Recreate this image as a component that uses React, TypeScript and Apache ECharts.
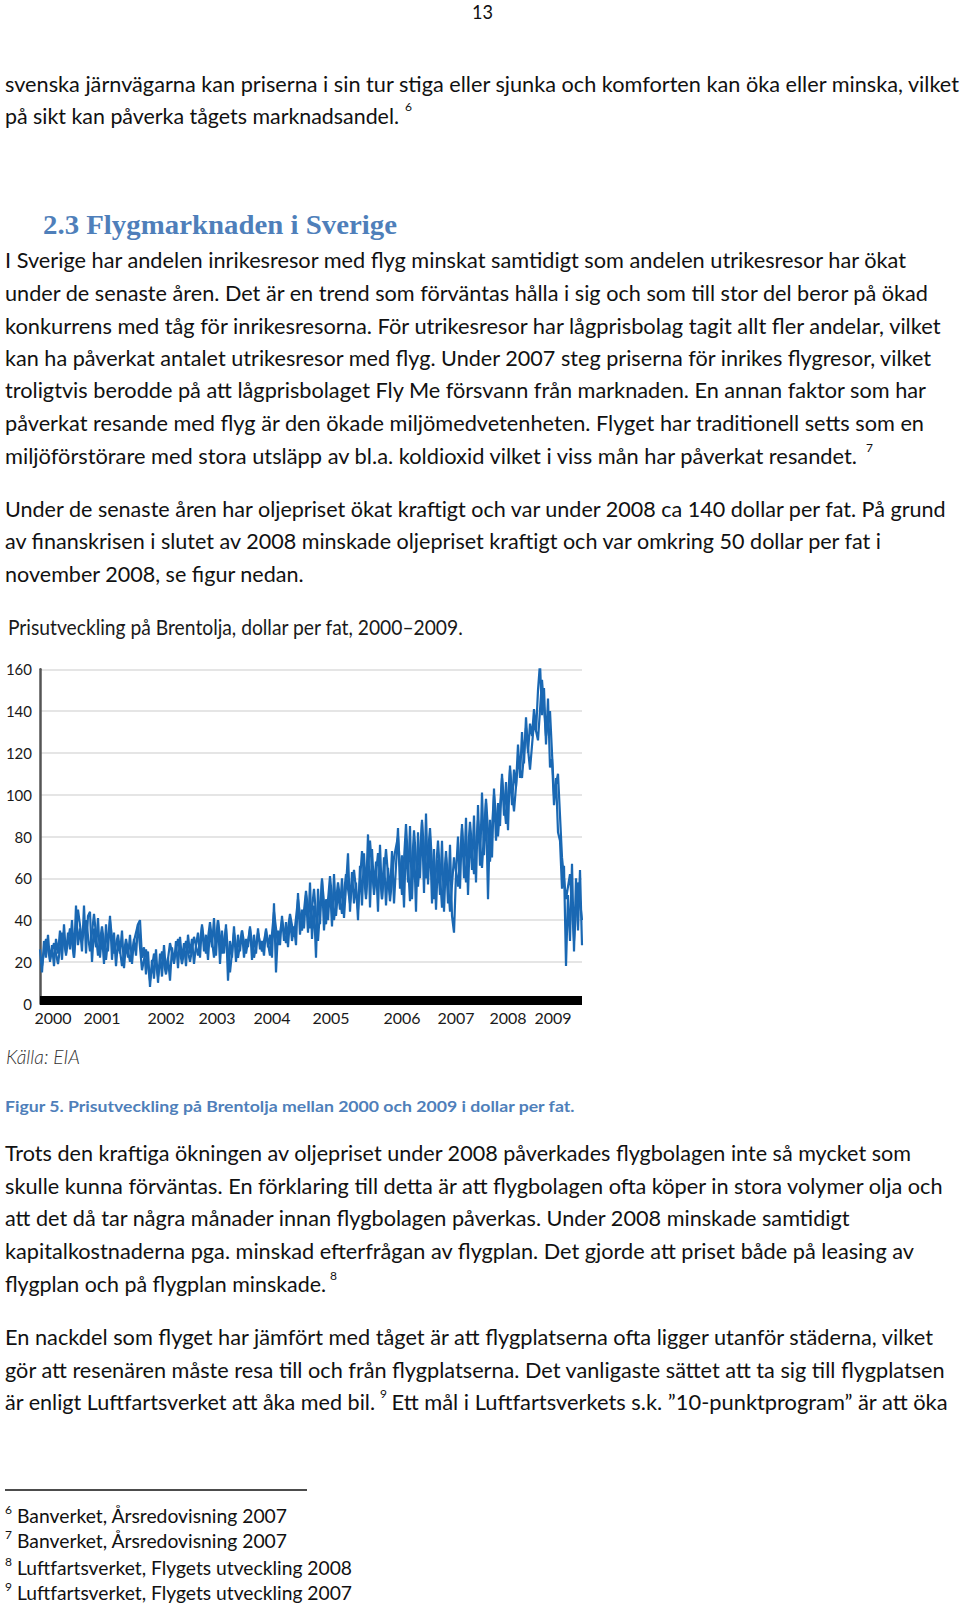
import React, { useEffect, useRef } from "react";
import * as echarts from "echarts";

// ---- Chart data (Brent crude, USD per barrel) ----
const chartTitle = "Prisutveckling på Brentolja, dollar per fat, 2000–2009.";
const sourceText = "Källa: EIA";

const yearLabels = ["2000", "2001", "2002", "2003", "2004", "2005", "2006", "2007", "2008", "2009"];
// position of each year label on the time index axis (as printed in the original)
const yearPos = [6.5, 31, 63, 88.5, 116, 145.5, 181, 208, 234, 256.5];

// main trace (every time step)
const brentPart1 = [26, 15, 30, 22, 33, 20, 28, 18, 31, 24, 35, 21, 38, 23, 34, 26, 40, 22, 47, 28, 36, 25, 47, 24, 42];
const brentPart2 = [44, 20, 36, 27, 41, 22, 33, 19, 38, 25, 42, 21, 34, 18, 30, 24, 35, 17, 29, 22, 33, 19, 31, 23, 38];
const brentPart3 = [40, 22, 27, 14, 25, 8, 21, 12, 26, 10, 24, 13, 28, 15, 22, 11, 27, 19, 30, 17, 32, 21, 29, 18, 33];
const brentPart4 = [24, 31, 19, 28, 34, 22, 38, 25, 33, 21, 36, 27, 41, 23, 40, 19, 35, 24, 38, 11, 30, 22, 37, 20, 33];
const brentPart5 = [25, 35, 22, 31, 27, 37, 21, 33, 24, 36, 26, 30, 23, 36, 27, 33, 22, 48, 15, 35, 28, 42, 30, 39, 27];
const brentPart6 = [41, 30, 37, 28, 53, 33, 45, 36, 52, 34, 58, 31, 47, 22, 55, 38, 60, 35, 50, 40, 56, 37, 62, 42, 54];
const brentPart7 = [45, 60, 41, 56, 72, 44, 63, 48, 58, 40, 66, 47, 72, 52, 81, 46, 74, 55, 68, 44, 76, 50, 70, 47, 65];
const brentPart8 = [52, 73, 48, 66, 84, 55, 71, 46, 79, 58, 85, 50, 77, 44, 82, 60, 88, 53, 91, 57, 80, 48, 74, 45, 69];
const brentPart9 = [52, 78, 44, 70, 48, 76, 42, 34, 62, 80, 55, 86, 60, 89, 52, 83, 64, 90, 58, 95, 66, 101, 71, 96, 50];
const brentPart10 = [88, 70, 103, 78, 96, 85, 110, 90, 106, 83, 114, 95, 112, 104, 124, 108, 130, 115, 137, 120, 134, 128, 141, 130, 150];
const brentPart11 = [163, 138, 151, 124, 146, 113, 117, 95, 108, 82, 78, 55, 66, 18, 52, 30, 67, 25, 60, 35, 64, 28];

// overlapping second trace (every other time step, odd indices)
const brentAlt1 = [18, 31, 21, 29, 19, 34, 24, 36, 22, 45, 30, 40, 25, 43, 23, 37, 21, 40, 24, 33, 18, 31, 20, 30, 38, 16, 26, 11, 24, 13, 25, 14, 29, 20];
const brentAlt2 = [31, 19, 30, 20, 32, 23, 37, 24, 39, 22, 40, 24, 36, 15, 34, 22, 35, 24, 36, 22, 34, 25, 35, 23, 44, 28, 40, 29, 43, 32, 50, 35, 54, 36];
const brentAlt3 = [55, 30, 59, 38, 61, 40, 58, 43, 62, 48, 64, 45, 73, 50, 78, 52, 72, 50, 74, 49, 70, 80, 52, 86, 49, 83, 56, 87, 60, 84, 50, 78, 46, 73];
const brentAlt4 = [44, 70, 56, 84, 58, 87, 62, 88, 65, 98, 68, 100, 80, 108, 86, 112, 92, 116, 108, 132, 112, 135, 126, 155, 128, 140, 100, 110, 70, 50, 62, 30, 58, 40];

const brent = [
  ...brentPart1, ...brentPart2, ...brentPart3, ...brentPart4, ...brentPart5, ...brentPart6,
  ...brentPart7, ...brentPart8, ...brentPart9, ...brentPart10, ...brentPart11,
];
const brentAlt = [...brentAlt1, ...brentAlt2, ...brentAlt3, ...brentAlt4];

// ---- Page text ----
type Line = { t: string; x: number; y: number; w: number; size: number; family: string; color: string; weight?: string };
const BODY = "Lato, 'Open Sans', sans-serif";
const body = (t: string, y: number, w: number, x = 5): Line => ({ t, x, y, w, size: 21, family: BODY, color: "#111" });
const sup = (t: string, x: number, y: number): Line => ({ t, x, y, w: 0, size: 12, family: BODY, color: "#111" });

const pageLines: Line[] = [
  { t: "13", x: 472, y: 11, w: 21, size: 20, family: BODY, color: "#111" },
  body("svenska järnvägarna kan priserna i sin tur stiga eller sjunka och komforten kan öka eller minska, vilket", 83, 954),
  body("på sikt kan påverka tågets marknadsandel.", 115.5, 394),
  sup("6", 405, 106),
  { t: "2.3 Flygmarknaden i Sverige", x: 43, y: 224, w: 354, size: 28, family: "'Liberation Serif', 'DejaVu Serif', serif", color: "#4f7fba", weight: "bold" },
  body("I Sverige har andelen inrikesresor med flyg minskat samtidigt som andelen utrikesresor har ökat", 259.7, 901),
  body("under de senaste åren. Det är en trend som förväntas hålla i sig och som till stor del beror på ökad", 292.4, 923),
  body("konkurrens med tåg för inrikesresorna. För utrikesresor har lågprisbolag tagit allt fler andelar, vilket", 325.1, 935.5),
  body("kan ha påverkat antalet utrikesresor med flyg. Under 2007 steg priserna för inrikes flygresor, vilket", 357.8, 926),
  body("troligtvis berodde på att lågprisbolaget Fly Me försvann från marknaden. En annan faktor som har", 389.5, 921),
  body("påverkat resande med flyg är den ökade miljömedvetenheten. Flyget har traditionell setts som en", 422.3, 919),
  body("miljöförstörare med stora utsläpp av bl.a. koldioxid vilket i viss mån har påverkat resandet.", 455, 852),
  sup("7", 866, 447),
  body("Under de senaste åren har oljepriset ökat kraftigt och var under 2008 ca 140 dollar per fat. På grund", 508.1, 940.6),
  body("av finanskrisen i slutet av 2008 minskade oljepriset kraftigt och var omkring 50 dollar per fat i", 540.9, 876),
  body("november 2008, se figur nedan.", 573.6, 298.6),
  { t: "Figur 5. Prisutveckling på Brentolja mellan 2000 och 2009 i dollar per fat.", x: 5, y: 1105, w: 569.5, size: 16, family: BODY, color: "#4f7fba", weight: "bold" },
  body("Trots den kraftiga ökningen av oljepriset under 2008 påverkades flygbolagen inte så mycket som", 1152.2, 906),
  body("skulle kunna förväntas. En förklaring till detta är att flygbolagen ofta köper in stora volymer olja och", 1185, 937.5),
  body("att det då tar några månader innan flygbolagen påverkas. Under 2008 minskade samtidigt", 1217.7, 844.5),
  body("kapitalkostnaderna pga. minskad efterfrågan av flygplan. Det gjorde att priset både på leasing av", 1250.4, 909),
  body("flygplan och på flygplan minskade.", 1283.1, 321),
  sup("8", 330, 1275),
  body("En nackdel som flyget har jämfört med tåget är att flygplatserna ofta ligger utanför städerna, vilket", 1336.3, 928),
  body("gör att resenären måste resa till och från flygplatserna. Det vanligaste sättet att ta sig till flygplatsen", 1369, 939.6),
  body("är enligt Luftfartsverket att åka med bil.", 1401.7, 370),
  sup("9", 380, 1393),
  body("Ett mål i Luftfartsverkets s.k. ”10-punktprogram” är att öka", 1401.7, 556, 391.6),
  sup("6", 5, 1509),
  { t: "Banverket, Årsredovisning 2007", x: 17, y: 1515, w: 270, size: 19, family: BODY, color: "#111" },
  sup("7", 5, 1534),
  { t: "Banverket, Årsredovisning 2007", x: 17, y: 1540, w: 270, size: 19, family: BODY, color: "#111" },
  sup("8", 5, 1561),
  { t: "Luftfartsverket, Flygets utveckling 2008", x: 17, y: 1567, w: 335, size: 19, family: BODY, color: "#111" },
  sup("9", 5, 1586),
  { t: "Luftfartsverket, Flygets utveckling 2007", x: 17, y: 1592, w: 335, size: 19, family: BODY, color: "#111" },
];

function measure(text: string, font: string): number {
  const ctx = document.createElement("canvas").getContext("2d");
  if (!ctx) return 1;
  ctx.font = font;
  return ctx.measureText(text).width || 1;
}

export default function App() {
  const ref = useRef<HTMLDivElement>(null);

  useEffect(() => {
    document.body.style.margin = "0";
    if (!ref.current) return;
    const chart = echarts.init(ref.current, null, { renderer: "svg" });

    const titleFont = "22px Lato";
    const titleScale = 456 / measure(chartTitle, titleFont);
    const srcFont = "italic 300 20px Lato";
    const srcScale = 74 / measure(sourceText, srcFont);

    const lineStyle = { color: "#1a68b3", width: 2.2 };

    chart.setOption({
      animation: false,
      grid: { left: 40, right: 18, top: 79.3, bottom: 76.3, containLabel: false },
      xAxis: {
        type: "value",
        min: 0,
        max: brent.length - 1,
        offset: -3,
        axisLine: { show: true, lineStyle: { color: "#000", width: 9, cap: "butt" } },
        axisTick: { show: false },
        splitLine: { show: false },
        axisLabel: {
          customValues: yearPos,
          formatter: (v: number) => {
            const k = yearPos.indexOf(v);
            return k >= 0 ? yearLabels[k] : "";
          },
          margin: 9,
          color: "#1a1a1a",
          fontSize: 16,
          fontFamily: "Lato",
        },
      },
      yAxis: {
        type: "value",
        min: 0,
        max: 160,
        interval: 20,
        axisLine: { show: true, lineStyle: { color: "#555", width: 2.5 } },
        axisTick: { show: false },
        splitLine: { show: true, lineStyle: { color: "#dcdcdc", width: 1.5 } },
        axisLabel: { margin: 8, color: "#1a1a1a", fontSize: 15, fontFamily: "Lato" },
      },
      series: [
        {
          type: "line",
          data: brent.map((v, i) => [i, v]),
          showSymbol: false,
          symbol: "none",
          lineStyle,
          z: 3,
        },
        {
          type: "line",
          data: brentAlt.map((v, k) => [2 * k + 1, v]),
          showSymbol: false,
          symbol: "none",
          lineStyle,
          z: 3,
        },
      ],
      graphic: [
        {
          type: "text",
          x: 8,
          y: 36,
          scaleX: titleScale,
          style: { text: chartTitle, font: titleFont, fill: "#1a1a1a", verticalAlign: "middle", align: "left" },
        },
        {
          type: "text",
          x: 6,
          y: 466,
          scaleX: srcScale,
          style: { text: sourceText, font: srcFont, fill: "#333", verticalAlign: "middle", align: "left" },
        },
      ],
    });

    return () => chart.dispose();
  }, []);

  return (
    <div style={{ position: "absolute", left: 0, top: 0, width: 960, height: 1603, background: "#fff", overflow: "hidden" }}>
      <svg width={960} height={1603} style={{ position: "absolute", left: 0, top: 0 }}>
        {pageLines.map((l, i) => (
          <text
            key={i}
            x={l.x}
            y={l.y}
            fontFamily={l.family}
            fontSize={l.size}
            fontWeight={l.weight || "normal"}
            fill={l.color}
            dominantBaseline="central"
            {...(l.w > 0 ? { textLength: l.w, lengthAdjust: "spacingAndGlyphs" } : {})}
          >
            {l.t}
          </text>
        ))}
        <line x1={5} y1={1490} x2={307} y2={1490} stroke="#111" strokeWidth={1.3} />
      </svg>
      <div ref={ref} style={{ position: "absolute", left: 0, top: 590, width: 600, height: 490 }} />
    </div>
  );
}
